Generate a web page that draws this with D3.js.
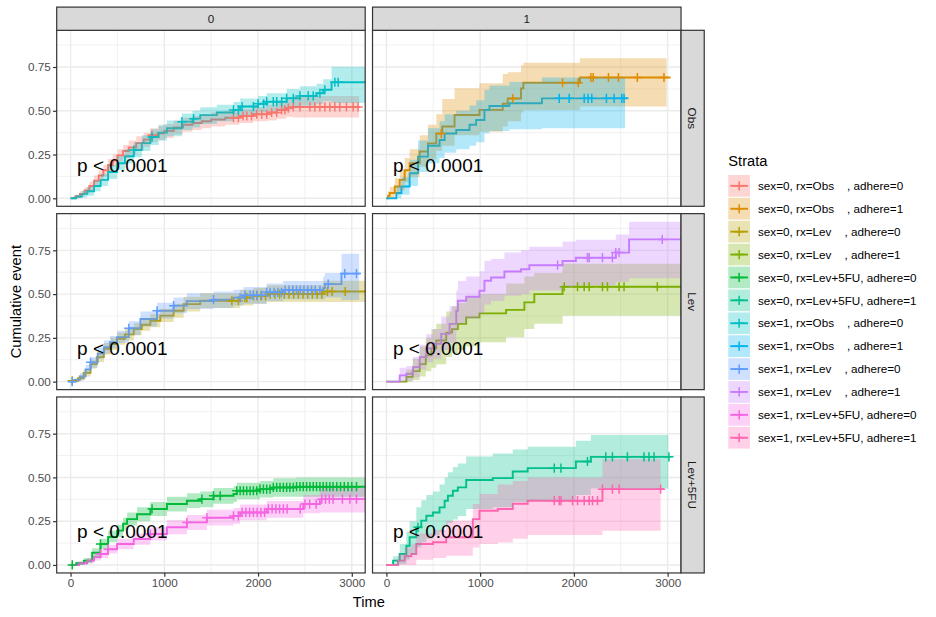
<!DOCTYPE html>
<html><head><meta charset="utf-8">
<script src="https://cdn.jsdelivr.net/npm/d3@7"></script>
<style>
body{margin:0;background:#fff;}
text{font-family:"Liberation Sans",Arial,Helvetica,sans-serif;}
</style>
</head><body>
<svg id="chart" width="936" height="617"></svg>
<script>
// ---------------- DATA ----------------
const strataLabels = [
  "sex=0, rx=Obs    , adhere=0","sex=0, rx=Obs    , adhere=1",
  "sex=0, rx=Lev    , adhere=0","sex=0, rx=Lev    , adhere=1",
  "sex=0, rx=Lev+5FU, adhere=0","sex=0, rx=Lev+5FU, adhere=1",
  "sex=1, rx=Obs    , adhere=0","sex=1, rx=Obs    , adhere=1",
  "sex=1, rx=Lev    , adhere=0","sex=1, rx=Lev    , adhere=1",
  "sex=1, rx=Lev+5FU, adhere=0","sex=1, rx=Lev+5FU, adhere=1"];
const strataColors = ["#F8766D","#DE8C00","#B79F00","#7CAE00","#00BA38","#00C08B",
                      "#00BFC4","#00B4F0","#619CFF","#C77CFF","#F564E3","#FF64B0"];
const strataRx = ["Obs","Obs","Lev","Lev","Lev+5FU","Lev+5FU","Obs","Obs","Lev","Lev","Lev+5FU","Lev+5FU"];
const strataAdhere = ["0","1","0","1","0","1","0","1","0","1","0","1"];
const rowLevels = ["Obs","Lev","Lev+5FU"];
const colLevels = ["0","1"];
const yTicks = [0,0.25,0.5,0.75];
const yTickLabels = ["0.00","0.25","0.50","0.75"];
const yMinor = [0.125,0.375,0.625,0.875];
const xTicks = [0,1000,2000,3000];
const xMinor = [500,1500,2500];
const xLimits = [-148,3143];
const pvalText = "p < 0.0001";

// steps: [time, cumulative event, lower, upper]; end: [line end, band end]
const s0ObsA0 = [[0,0,0,0],[50,0.01,0,0.02],[100,0.025,0.01,0.04],[150,0.045,0.025,0.065],[200,0.07,0.045,0.095],[250,0.1,0.07,0.13],[300,0.13,0.1,0.16],[350,0.16,0.125,0.19],[400,0.19,0.155,0.225],[450,0.215,0.18,0.25],[500,0.245,0.21,0.28],[560,0.27,0.23,0.305],[620,0.29,0.25,0.33],[700,0.315,0.275,0.355],[780,0.335,0.295,0.375],[850,0.36,0.32,0.4],[930,0.372,0.332,0.412],[1000,0.385,0.345,0.425],[1100,0.405,0.365,0.445],[1200,0.42,0.38,0.46],[1300,0.43,0.39,0.47],[1400,0.44,0.4,0.48],[1500,0.45,0.41,0.49],[1650,0.46,0.42,0.5],[1800,0.47,0.43,0.51],[1950,0.48,0.44,0.52],[2100,0.49,0.445,0.535],[2200,0.505,0.455,0.55],[2300,0.515,0.465,0.565],[2370,0.522,0.462,0.585]];
const s0ObsA0End = [3085,3078];
const s0ObsA0Cens = [869,1738,1790,1840,1880,1930,1986,2040,2092,2145,2199,2252,2287,2323,2376,2447,2553,2606,2660,2713,2766,2819,2872,2943,3014,3067];

const s0ObsA1 = [[0,0,0,0],[18,0.015,0,0.04],[35,0.03,0,0.065],[89,0.067,0.02,0.115],[142,0.105,0.045,0.165],[195,0.16,0.09,0.23],[248,0.2,0.12,0.28],[355,0.267,0.18,0.36],[443,0.314,0.22,0.42],[532,0.37,0.27,0.48],[596,0.41,0.3,0.567],[727,0.476,0.36,0.628],[993,0.505,0.38,0.657],[1241,0.54,0.41,0.71],[1294,0.57,0.44,0.72],[1436,0.628,0.49,0.76],[1461,0.66,0.505,0.775],[2064,0.69,0.524,0.8]];
const s0ObsA1End = [3032,2989];
const s0ObsA1Cens = [585,1348,1879,2046,2181,2206,2369,2475,2677,2961];

const s0LevA0 = [[0,0,0,0],[18,0.005,0,0.015],[80,0.02,0.005,0.035],[140,0.05,0.03,0.07],[213,0.1,0.075,0.125],[280,0.14,0.11,0.17],[355,0.187,0.155,0.22],[430,0.215,0.18,0.25],[496,0.244,0.21,0.28],[580,0.27,0.235,0.305],[674,0.3,0.265,0.335],[760,0.325,0.29,0.36],[851,0.348,0.31,0.385],[957,0.377,0.34,0.415],[1099,0.405,0.365,0.445],[1206,0.443,0.4,0.485],[1383,0.462,0.42,0.505],[1809,0.48,0.435,0.525],[1950,0.49,0.445,0.535],[2092,0.5,0.455,0.55],[2695,0.515,0.455,0.576]];
const s0LevA0End = [3200,3200];
const s0LevA0Cens = [18,1720,1790,1860,1880,1950,1990,2030,2080,2130,2180,2230,2280,2330,2380,2430,2480,2530,2580,2630,2680,2740,2790,2930];

const s0LevA1 = [[0,0,0,0],[213,0.027,0,0.07],[280,0.06,0.01,0.13],[355,0.1,0.03,0.2],[420,0.15,0.06,0.25],[480,0.19,0.08,0.3],[532,0.235,0.1,0.33],[638,0.28,0.14,0.4],[700,0.3,0.16,0.43],[762,0.33,0.18,0.45],[851,0.367,0.2,0.48],[993,0.39,0.225,0.5],[1277,0.41,0.254,0.56],[1472,0.453,0.3,0.6],[1578,0.5,0.33,0.62],[1879,0.542,0.377,0.674]];
const s0LevA1End = [3200,3200];
const s0LevA1Cens = [1897,2039,2110,2163,2305,2358,2482,2535,2890];

const s0L5A0 = [[0,0,0,0],[60,0.01,0,0.02],[142,0.025,0.01,0.04],[230,0.07,0.045,0.095],[319,0.12,0.09,0.15],[400,0.16,0.13,0.195],[496,0.196,0.16,0.23],[560,0.235,0.2,0.27],[603,0.262,0.225,0.3],[709,0.29,0.25,0.33],[851,0.32,0.28,0.36],[1028,0.348,0.305,0.39],[1241,0.367,0.325,0.41],[1383,0.376,0.33,0.42],[1525,0.395,0.35,0.44],[1738,0.405,0.36,0.45],[1773,0.424,0.375,0.47],[2021,0.433,0.385,0.48],[2163,0.443,0.39,0.495],[2400,0.447,0.39,0.5]];
const s0L5A0End = [3200,3200];
const s0L5A0Cens = [18,319,869,1401,1525,1596,1773,1809,1844,1879,1915,1950,1986,2021,2057,2092,2128,2163,2199,2234,2270,2305,2340,2376,2411,2447,2482,2518,2553,2589,2624,2660,2695,2730,2766,2800,2840,2880,2920,2960,3000,3050];

const s0L5A1 = [[0,0,0,0],[71,0.025,0,0.05],[142,0.063,0.005,0.12],[213,0.11,0.03,0.19],[248,0.158,0.06,0.25],[319,0.215,0.1,0.33],[372,0.253,0.13,0.37],[426,0.281,0.15,0.4],[496,0.3,0.17,0.42],[567,0.329,0.19,0.46],[621,0.367,0.22,0.5],[656,0.395,0.24,0.53],[709,0.424,0.26,0.56],[762,0.443,0.28,0.58],[851,0.485,0.32,0.62],[1135,0.496,0.33,0.637],[1348,0.534,0.36,0.66],[1507,0.553,0.37,0.675],[2021,0.591,0.4,0.71],[2181,0.6175,0.437,0.743]];
const s0L5A1End = [3032,3007];
const s0L5A1Cens = [337,1791,1862,2145,2340,2411,2571,2748,2801,2855,3014];

const s1ObsA0 = [[0,0,0,0],[60,0.01,0,0.02],[120,0.025,0.005,0.045],[177,0.04,0.015,0.065],[250,0.07,0.04,0.1],[320,0.105,0.07,0.14],[400,0.15,0.11,0.19],[496,0.2,0.16,0.24],[580,0.24,0.2,0.28],[674,0.276,0.235,0.32],[760,0.315,0.27,0.36],[851,0.35,0.305,0.395],[940,0.375,0.33,0.42],[1028,0.4,0.355,0.445],[1188,0.438,0.39,0.485],[1300,0.455,0.405,0.5],[1383,0.475,0.425,0.52],[1560,0.49,0.44,0.535],[1738,0.505,0.455,0.55],[1809,0.524,0.475,0.57],[2000,0.54,0.49,0.585],[2092,0.552,0.5,0.6],[2305,0.571,0.515,0.625],[2447,0.585,0.53,0.64],[2624,0.6,0.54,0.655],[2695,0.62,0.555,0.68],[2784,0.663,0.545,0.752]];
const s1ObsA0End = [3200,3200];
const s1ObsA0Cens = [674,869,1188,1312,1738,1790,1830,1950,2000,2060,2092,2163,2199,2252,2305,2376,2447,2535,2589,2660,2713,2819,2855];

const s1ObsA1 = [[0,0,0,0],[106,0.03,0,0.07],[160,0.067,0.02,0.12],[248,0.143,0.07,0.22],[337,0.238,0.15,0.33],[443,0.3,0.2,0.4],[567,0.333,0.23,0.44],[621,0.37,0.26,0.48],[745,0.39,0.28,0.5],[887,0.42,0.3,0.53],[957,0.447,0.32,0.56],[1046,0.505,0.37,0.62],[1099,0.527,0.385,0.645],[1312,0.543,0.395,0.665],[1659,0.571,0.4,0.69]];
const s1ObsA1End = [2571,2546];
const s1ObsA1Cens = [1844,1950,2110,2152,2191,2347,2429,2511,2535];

const s1LevA0 = [[0,0,0,0],[40,0.01,0,0.02],[100,0.03,0.01,0.05],[160,0.07,0.045,0.095],[213,0.11,0.08,0.14],[290,0.16,0.13,0.195],[355,0.197,0.16,0.235],[420,0.225,0.19,0.26],[496,0.254,0.22,0.29],[621,0.305,0.265,0.345],[745,0.358,0.315,0.4],[922,0.405,0.36,0.45],[1099,0.434,0.39,0.48],[1241,0.46,0.415,0.505],[1525,0.468,0.42,0.515],[1738,0.48,0.435,0.525],[1844,0.494,0.445,0.54],[2092,0.51,0.46,0.56],[2269,0.523,0.47,0.575],[2695,0.534,0.47,0.6],[2713,0.557,0.48,0.62],[2890,0.617,0.466,0.73]];
const s1LevA0End = [3085,3078];
const s1LevA0Cens = [18,213,621,922,1099,1525,1809,1862,1915,1950,1986,2039,2092,2130,2170,2210,2250,2290,2330,2370,2410,2450,2490,2530,2570,2610,2660,2748,2925,3050];

const s1LevA1 = [[0,0,0,0],[142,0.036,0,0.08],[213,0.045,0.005,0.09],[284,0.083,0.025,0.14],[355,0.14,0.07,0.21],[426,0.19,0.11,0.27],[496,0.216,0.13,0.3],[585,0.273,0.18,0.37],[674,0.33,0.22,0.43],[745,0.405,0.29,0.52],[762,0.462,0.33,0.575],[851,0.485,0.36,0.6],[993,0.519,0.39,0.63],[1046,0.576,0.44,0.69],[1117,0.595,0.46,0.7],[1259,0.629,0.49,0.737],[1436,0.642,0.5,0.75],[1525,0.665,0.52,0.77],[1879,0.689,0.54,0.8],[2021,0.708,0.55,0.81],[2447,0.737,0.57,0.84],[2589,0.8125,0.59,0.914]];
const s1LevA1End = [3200,3200];
const s1LevA1Cens = [1826,2145,2163,2305,2411,2447,2482,2943];

const s1L5A0 = [[0,0,0,0],[90,0.01,0,0.02],[177,0.025,0.01,0.04],[250,0.045,0.025,0.065],[319,0.063,0.04,0.085],[400,0.09,0.065,0.115],[496,0.12,0.09,0.15],[674,0.148,0.115,0.18],[851,0.177,0.14,0.215],[1028,0.215,0.175,0.255],[1241,0.243,0.2,0.285],[1454,0.27,0.225,0.315],[1738,0.28,0.235,0.325],[1809,0.3,0.255,0.345],[2092,0.32,0.27,0.365],[2482,0.348,0.295,0.4],[2660,0.376,0.3,0.44]];
const s1L5A0End = [3200,3200];
const s1L5A0Cens = [319,400,851,1241,1454,1738,1790,1830,1870,1910,1950,1990,2030,2070,2110,2150,2190,2230,2270,2310,2450,2500,2550,2620,2680,2720,2760,2800,2900,2980,3050];

const s1L5A1 = [[0,0,0,0],[124,0.025,0,0.063],[195,0.05,0,0.1],[266,0.063,0,0.12],[319,0.12,0.03,0.18],[496,0.13,0.04,0.2],[638,0.158,0.053,0.253],[922,0.262,0.1,0.348],[993,0.31,0.12,0.405],[1188,0.32,0.129,0.46],[1348,0.35,0.15,0.48],[1507,0.367,0.171,0.5],[2305,0.433,0.196,0.604]];
const s1L5A1End = [2961,2925];
const s1L5A1Cens = [1791,1844,1862,1986,2039,2110,2163,2199,2252,2305,2411,2482,2925];

// Table built from the named arrays (legend order)
const curves = [
  {steps:s0ObsA0,end:s0ObsA0End,cens:s0ObsA0Cens},
  {steps:s0ObsA1,end:s0ObsA1End,cens:s0ObsA1Cens},
  {steps:s0LevA0,end:s0LevA0End,cens:s0LevA0Cens},
  {steps:s0LevA1,end:s0LevA1End,cens:s0LevA1Cens},
  {steps:s0L5A0,end:s0L5A0End,cens:s0L5A0Cens},
  {steps:s0L5A1,end:s0L5A1End,cens:s0L5A1Cens},
  {steps:s1ObsA0,end:s1ObsA0End,cens:s1ObsA0Cens},
  {steps:s1ObsA1,end:s1ObsA1End,cens:s1ObsA1Cens},
  {steps:s1LevA0,end:s1LevA0End,cens:s1LevA0Cens},
  {steps:s1LevA1,end:s1LevA1End,cens:s1LevA1Cens},
  {steps:s1L5A0,end:s1L5A0End,cens:s1L5A0Cens},
  {steps:s1L5A1,end:s1L5A1End,cens:s1L5A1Cens}
].map((c,i)=>({...c, label:strataLabels[i], color:strataColors[i], rx:strataRx[i], adhere:strataAdhere[i]}));

// ---------------- LAYOUT ----------------
const svg = d3.select("#chart");
svg.append("rect").attr("width",936).attr("height",617).attr("fill","#fff");
const panelW = 308.5, panelH = 176, spacing = 7.33, stripSize = 23.2;
const plotLeft = 56.7, plotTop = 30.3;
const colX = colLevels.map((_,i)=>plotLeft + i*(panelW+spacing));
const rowY = rowLevels.map((_,i)=>plotTop + i*(panelH+spacing));

const x = d3.scaleLinear().domain(xLimits).range([0,panelW]);
const yMaxData = d3.max(curves, c=>d3.max(c.steps, s=>s[3]));
const yPad = 0.05*yMaxData;
const y = d3.scaleLinear().domain([-yPad, yMaxData+yPad]).range([panelH,0]);

const grey20 = "#333333";
const valueAt = (steps,t)=>{ let v=0; for(const s of steps){ if(s[0]<=t) v=s[1]; } return v; };

const lineGen = d3.line().x(d=>x(d[0])).y(d=>y(d[1])).curve(d3.curveStepAfter);
const areaGen = d3.area().x(d=>x(d[0])).y0(d=>y(d[2])).y1(d=>y(d[3])).curve(d3.curveStepAfter);
const plusPath = s => `M${-s},0H${s}M0,${-s}V${s}`;

rowLevels.forEach((rx,ri)=>{
  colLevels.forEach((ad,ci)=>{
    const g = svg.append("g").attr("transform",`translate(${colX[ci]},${rowY[ri]})`);
    g.append("rect").attr("width",panelW).attr("height",panelH).attr("fill","#fff");
    const cid = `clip${ri}${ci}`;
    g.append("clipPath").attr("id",cid).append("rect").attr("width",panelW).attr("height",panelH);
    // grid
    const grid = g.append("g").attr("clip-path",`url(#${cid})`);
    grid.selectAll(".ymin").data(yMinor).join("line").attr("x1",0).attr("x2",panelW)
      .attr("y1",d=>y(d)).attr("y2",d=>y(d)).attr("stroke","#EBEBEB").attr("stroke-width",0.71);
    grid.selectAll(".xmin").data(xMinor).join("line").attr("y1",0).attr("y2",panelH)
      .attr("x1",d=>x(d)).attr("x2",d=>x(d)).attr("stroke","#EBEBEB").attr("stroke-width",0.71);
    grid.selectAll(".ymaj").data(yTicks).join("line").attr("x1",0).attr("x2",panelW)
      .attr("y1",d=>y(d)).attr("y2",d=>y(d)).attr("stroke","#EBEBEB").attr("stroke-width",1.42);
    grid.selectAll(".xmaj").data(xTicks).join("line").attr("y1",0).attr("y2",panelH)
      .attr("x1",d=>x(d)).attr("x2",d=>x(d)).attr("stroke","#EBEBEB").attr("stroke-width",1.42);

    const cs = curves.filter(c=>c.rx===rx && c.adhere===ad);
    const data = g.append("g").attr("clip-path",`url(#${cid})`);
    // lines
    cs.forEach(c=>{
      const last = c.steps[c.steps.length-1];
      data.append("path").datum([...c.steps,[c.end[0],last[1],last[2],last[3]]])
        .attr("d",lineGen).attr("fill","none").attr("stroke",c.color).attr("stroke-width",1.9);
    });
    // ribbons
    cs.forEach(c=>{
      const last = c.steps[c.steps.length-1];
      data.append("path").datum([...c.steps,[c.end[1],last[1],last[2],last[3]]])
        .attr("d",areaGen).attr("fill",c.color).attr("fill-opacity",0.3).attr("stroke","none");
    });
    // censor marks
    cs.forEach(c=>{
      data.selectAll(null).data(c.cens).join("path")
        .attr("transform",d=>`translate(${x(d)},${y(valueAt(c.steps,d))})`)
        .attr("d",plusPath(4.6)).attr("stroke",c.color).attr("stroke-width",1.5).attr("fill","none");
    });
    // p-value
    g.append("text").attr("x",x(70)).attr("y",y(0.2)).attr("dy","0.44em")
      .attr("font-size",19).attr("fill","#000").text(pvalText);
    // border
    g.append("rect").attr("width",panelW).attr("height",panelH).attr("fill","none")
      .attr("stroke",grey20).attr("stroke-width",1.2);

    // y axis on left column
    if(ci===0){
      const ax = g.append("g").call(d3.axisLeft(y).tickValues(yTicks).tickFormat((d,i)=>yTickLabels[i]).tickSize(3.67).tickPadding(2.2));
      ax.select(".domain").remove();
      ax.selectAll("line").attr("stroke",grey20).attr("stroke-width",1.2);
      ax.selectAll("text").attr("fill","#4D4D4D").attr("font-size",11.7)
        .attr("font-family",'"Liberation Sans",Arial,sans-serif');
    }
    // x axis on bottom row
    if(ri===rowLevels.length-1){
      const ax = g.append("g").attr("transform",`translate(0,${panelH})`)
        .call(d3.axisBottom(x).tickValues(xTicks).tickFormat(d3.format("d")).tickSize(3.67).tickPadding(2.2));
      ax.select(".domain").remove();
      ax.selectAll("line").attr("stroke",grey20).attr("stroke-width",1.2);
      ax.selectAll("text").attr("fill","#4D4D4D").attr("font-size",11.7)
        .attr("font-family",'"Liberation Sans",Arial,sans-serif');
    }
    // top strip
    if(ri===0){
      const sg = svg.append("g").attr("transform",`translate(${colX[ci]},${rowY[ri]-stripSize})`);
      sg.append("rect").attr("width",panelW).attr("height",stripSize).attr("fill","#D9D9D9")
        .attr("stroke",grey20).attr("stroke-width",1.2);
      sg.append("text").attr("x",panelW/2).attr("y",stripSize/2).attr("dy","0.36em")
        .attr("text-anchor","middle").attr("font-size",11.7).attr("fill","#1A1A1A").text(ad);
    }
    // right strip
    if(ci===colLevels.length-1){
      const sg = svg.append("g").attr("transform",`translate(${colX[ci]+panelW},${rowY[ri]})`);
      sg.append("rect").attr("width",stripSize).attr("height",panelH).attr("fill","#D9D9D9")
        .attr("stroke",grey20).attr("stroke-width",1.2);
      sg.append("text").attr("transform",`translate(${stripSize/2},${panelH/2}) rotate(90)`)
        .attr("dy","0.36em").attr("text-anchor","middle").attr("font-size",11.7).attr("fill","#1A1A1A").text(rx);
    }
  });
});

// axis titles
const plotRight = colX[1]+panelW;
const plotBottom = rowY[2]+panelH;
svg.append("text").attr("x",(plotLeft+plotRight)/2).attr("y",606.5).attr("text-anchor","middle")
  .attr("font-size",14.67).attr("fill","#000").text("Time");
svg.append("text").attr("transform",`translate(20.5,${(plotTop+plotBottom)/2}) rotate(-90)`)
  .attr("text-anchor","middle").attr("font-size",14.67).attr("fill","#000").text("Cumulative event");

// legend
const lg = svg.append("g").attr("transform","translate(728.3,0)");
lg.append("text").attr("x",0).attr("y",165.5).attr("font-size",14.67).attr("fill","#000").text("Strata");
const keyPitch = 22.9, keyTop = 175, keySize = 21.7;
curves.forEach((c,i)=>{
  const k = lg.append("g").attr("transform",`translate(0,${keyTop+i*keyPitch})`);
  k.append("rect").attr("width",keySize).attr("height",keySize).attr("fill",c.color).attr("fill-opacity",0.3);
  k.append("line").attr("x1",2).attr("x2",keySize-2).attr("y1",keySize/2).attr("y2",keySize/2)
    .attr("stroke",c.color).attr("stroke-width",1.9);
  k.append("path").attr("transform",`translate(${keySize/2},${keySize/2})`).attr("d",plusPath(4.6))
    .attr("stroke",c.color).attr("stroke-width",1.5).attr("fill","none");
  k.append("text").attr("x",keySize+8).attr("y",keySize/2).attr("dy","0.36em")
    .attr("font-size",11.7).attr("fill","#000").style("white-space","pre").text(c.label);
});
</script>
</body></html>
